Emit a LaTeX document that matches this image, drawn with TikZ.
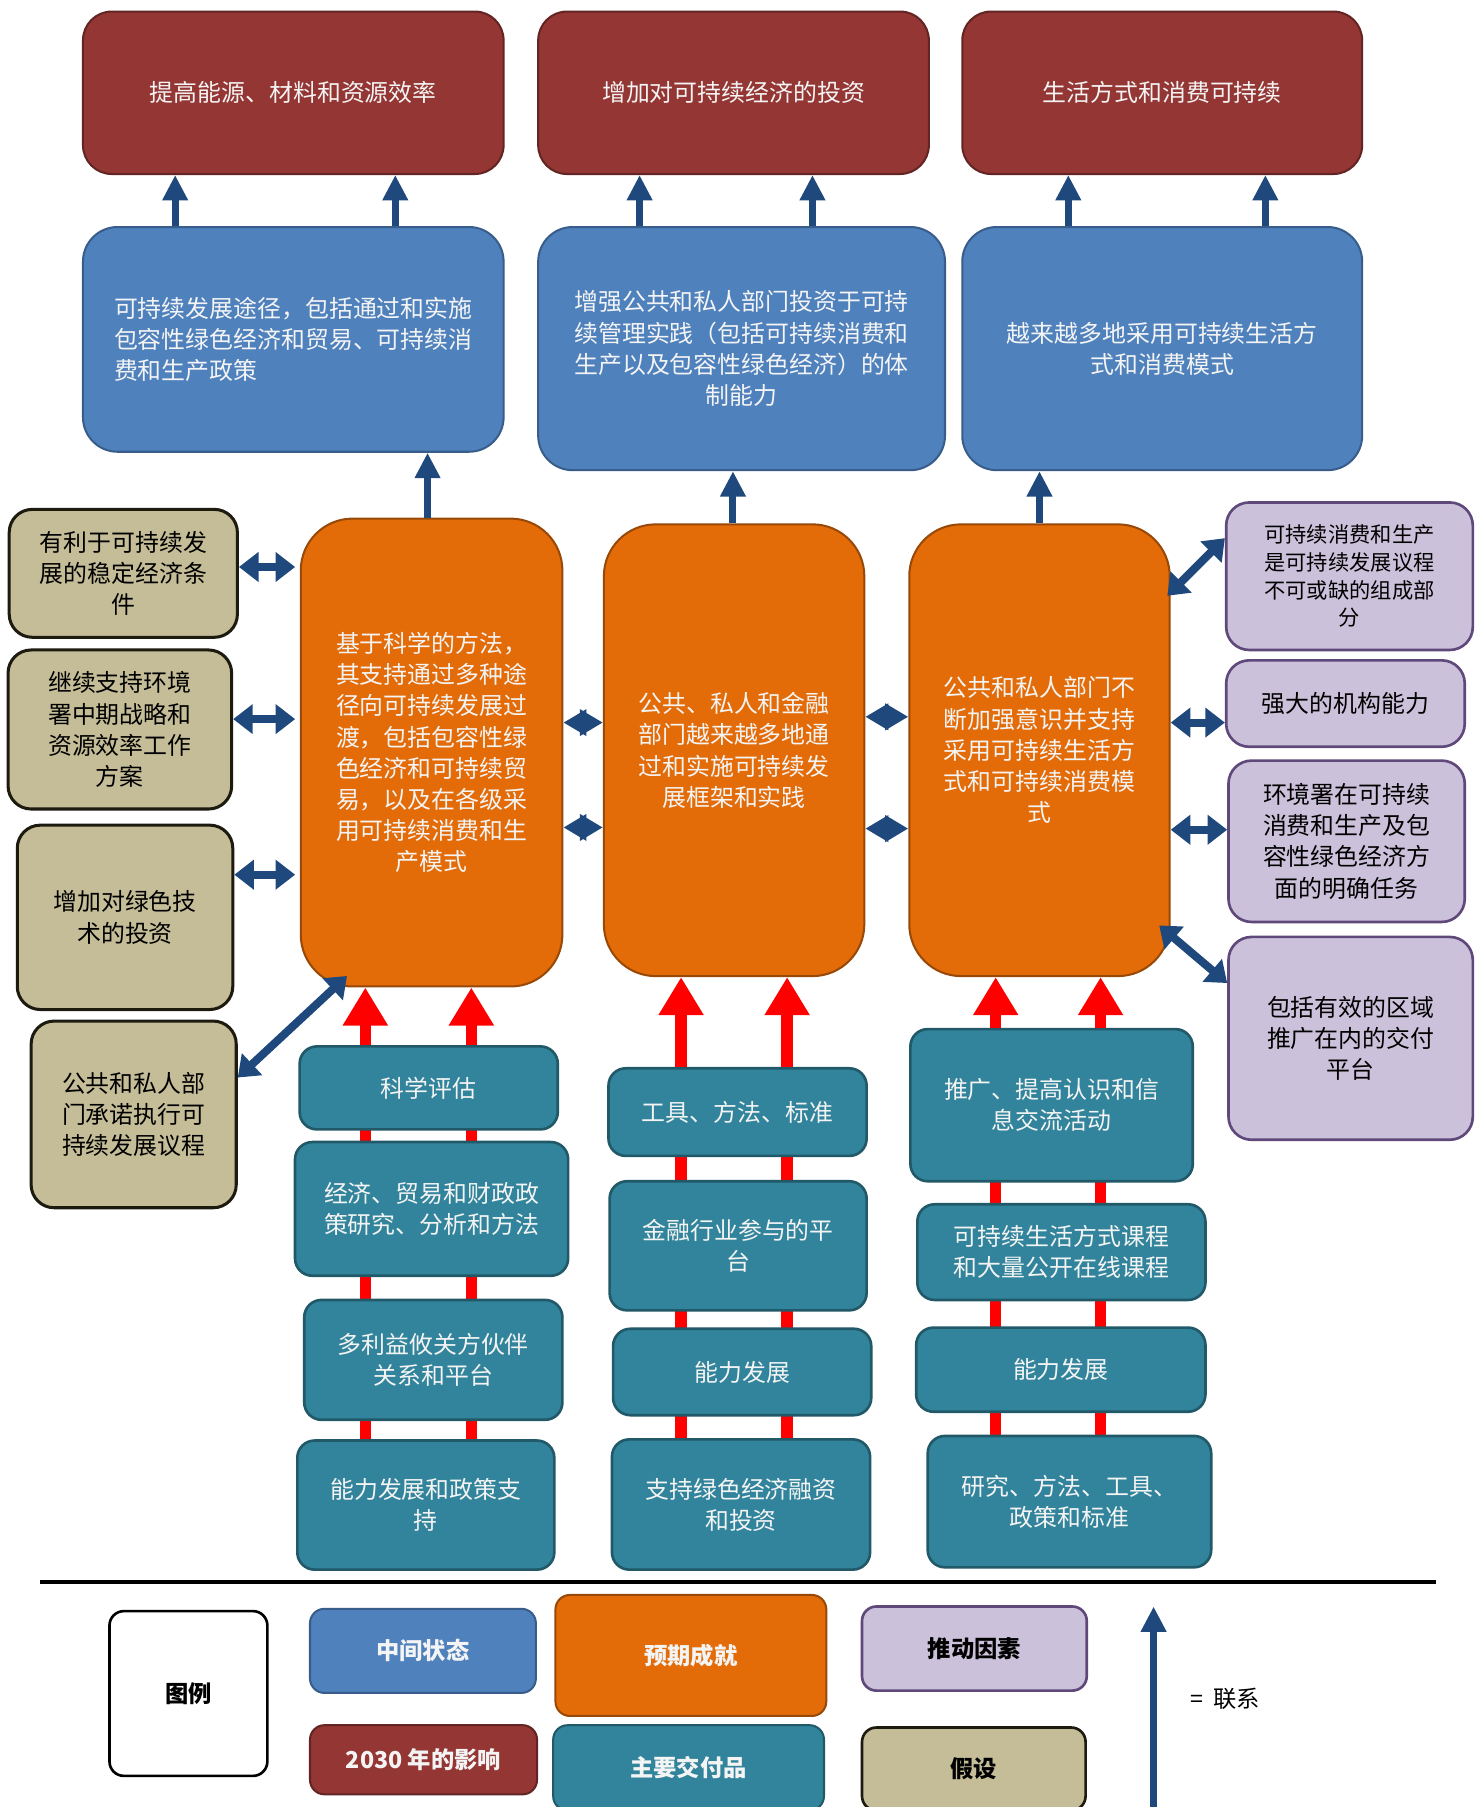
\documentclass[tikz,border=0pt]{standalone}
\usepackage{fontspec}
\setmainfont{Noto Sans CJK SC}
\usepackage{tikz}
\usetikzlibrary{arrows.meta,calc}
\definecolor{impred}{HTML}{943634}
\definecolor{impredline}{HTML}{632523}
\definecolor{midblue}{HTML}{4F81BD}
\definecolor{midblueline}{HTML}{385D8A}
\definecolor{achorange}{HTML}{E36C09}
\definecolor{achorangeline}{HTML}{984807}
\definecolor{delteal}{HTML}{31849B}
\definecolor{deltealline}{HTML}{215968}
\definecolor{asstan}{HTML}{C4BD97}
\definecolor{asstanline}{HTML}{1D1B10}
\definecolor{drvpurple}{HTML}{CCC1DA}
\definecolor{drvpurpleline}{HTML}{5F497A}
\definecolor{linkblue}{HTML}{1F497D}
\definecolor{paper}{HTML}{F4F4F4}

\begin{document}
\begin{tikzpicture}[x=0.02cm,y=-0.02cm,
  wh/.style 2 args={minimum width=#1*0.02cm,minimum height=#2*0.02cm},
  card/.style={draw,line width=1pt,inner sep=1pt,align=center,font=\fontsize{11.8pt}{15.4pt}\selectfont},
  impact/.style={card,rounded corners=0.5cm,fill=impred,draw=impredline,text=paper},
  midstate/.style={card,rounded corners=0.6cm,fill=midblue,draw=midblueline,text=paper},
  achieve/.style={card,rounded corners=0.9cm,fill=achorange,draw=achorangeline,text=paper},
  deliver/.style={card,rounded corners=0.3cm,fill=delteal,draw=deltealline,line width=1.3pt,text=paper},
  assume/.style={card,rounded corners=0.4cm,fill=asstan,draw=asstanline,line width=1.5pt,text=black},
  driver/.style={card,rounded corners=0.4cm,fill=drvpurple,draw=drvpurpleline,line width=1.3pt,text=black},
  legend/.style={font=\fontsize{11.5pt}{14pt}\selectfont\bfseries,rounded corners=0.25cm},
  link/.style={draw=linkblue,line width=0.12cm,-{Triangle[width=0.42cm,length=0.44cm]}},
  twoway/.style={draw=linkblue,line width=0.14cm,{Triangle[width=0.5cm,length=0.34cm]}-{Triangle[width=0.5cm,length=0.34cm]}},
  diamondlink/.style={draw=linkblue,line width=0.1cm,{Triangle[width=0.44cm,length=0.4cm]}-{Triangle[width=0.44cm,length=0.4cm]}},
  feed/.style={draw=red,line width=0.2cm},
  feedtip/.style={feed,-{Triangle[width=0.74cm,length=0.66cm]}}]
\useasboundingbox[fill=white] (0,0) rectangle (1287,1568);

\node[impact,wh={365}{141}] (r1) at (254.5,80.5) {提高能源、材料和资源效率};
\node[impact,wh={339}{141}] (r2) at (636.5,80.5) {增加对可持续经济的投资};
\node[impact,wh={347}{141}] (r3) at (1008.5,80.5) {生活方式和消费可持续};

\node[midstate,wh={365}{195},align=left] (b1) at (254.5,294.5) {可持续发展途径，包括通过和实施\\包容性绿色经济和贸易、可持续消\\费和生产政策};
\node[midstate,wh={353}{211}] (b2) at (643.5,302.5) {增强公共和私人部门投资于可持\\续管理实践（包括可持续消费和\\生产以及包容性绿色经济）的体\\制能力};
\node[midstate,wh={347}{211}] (b3) at (1008.5,302.5) {越来越多地采用可持续生活方\\式和消费模式};

\node[achieve,wh={227}{406}] (o1) at (374.5,653) {基于科学的方法，\\其支持通过多种途\\径向可持续发展过\\渡，包括包容性绿\\色经济和可持续贸\\易，以及在各级采\\用可持续消费和生\\产模式};
\node[achieve,wh={226}{392}] (o2) at (637,651) {公共、私人和金融\\部门越来越多地通\\过和实施可持续发\\展框架和实践};
\node[achieve,wh={226}{392}] (o3) at (902,651) {公共和私人部门不\\断加强意识并支持\\采用可持续生活方\\式和可持续消费模\\式};

\node[assume,wh={198}{111}] (t1) at (107,497.5) {有利于可持续发\\展的稳定经济条\\件};
\node[assume,wh={194}{138}] (t2) at (104,633) {继续支持环境\\署中期战略和\\资源效率工作\\方案};
\node[assume,wh={187}{160}] (t3) at (108.5,796) {增加对绿色技\\术的投资};
\node[assume,wh={178}{162}] (t4) at (116,967) {公共和私人部\\门承诺执行可\\持续发展议程};

\node[driver,wh={214}{128},font=\fontsize{10.5pt}{13.6pt}\selectfont] (p1) at (1171,500) {可持续消费和生产\\是可持续发展议程\\不可或缺的组成部\\分};
\node[driver,wh={207}{75}] (p2) at (1167.5,610.5) {强大的机构能力};
\node[driver,wh={205}{140}] (p3) at (1168.5,730) {环境署在可持续\\消费和生产及包\\容性绿色经济方\\面的明确任务};
\node[driver,wh={212}{176}] (p4) at (1172,901) {包括有效的区域\\推广在内的交付\\平台};

\foreach \x in {317,409} {
  \draw[feed] (372,1306 -| \x,0) -- (372,1180 -| \x,0);
  \draw[feed] (372,1180 -| \x,0) -- (372,1049 -| \x,0);
  \draw[feed] (372,1049 -| \x,0) -- (372,944 -| \x,0);
}
\foreach \x in {591,683} \draw[feed] (640,1305 -| \x,0) -- (640,965 -| \x,0);
\foreach \x in {864,955} \draw[feed] (920,1303 -| \x,0) -- (920,959 -| \x,0);

\node[deliver,wh={224}{72}] (c1a) at (372,944) {科学评估};
\node[deliver,wh={237}{116}] (c1b) at (374.5,1049) {经济、贸易和财政政\\策研究、分析和方法};
\node[deliver,wh={224}{104}] (c1c) at (376,1180) {多利益攸关方伙伴\\关系和平台};
\node[deliver,wh={223}{112}] (c1d) at (369.5,1306) {能力发展和政策支\\持};
\node[deliver,wh={224}{76}] (c2a) at (640,965) {工具、方法、标准};
\node[deliver,wh={223}{112}] (c2b) at (640.5,1081) {金融行业参与的平\\台};
\node[deliver,wh={224}{75}] (c2c) at (644,1190.5) {能力发展};
\node[deliver,wh={224}{113}] (c2d) at (643,1305.5) {支持绿色经济融资\\和投资};
\node[deliver,wh={245}{132}] (c3a) at (912.5,959) {推广、提高认识和信\\息交流活动};
\node[deliver,wh={250}{83}] (c3b) at (921,1086.5) {可持续生活方式课程\\和大量公开在线课程};
\node[deliver,wh={251}{73}] (c3c) at (920.5,1188.5) {能力发展};
\node[deliver,wh={246}{114}] (c3d) at (928,1303) {研究、方法、工具、\\政策和标准};

\foreach \x in {317,409} \draw[feedtip] (c1a.north -| \x,0) -- (o1.south -| \x,0);
\foreach \x in {591,683} \draw[feedtip] (c2a.north -| \x,0) -- (o2.south -| \x,0);
\foreach \x in {864,955} \draw[feedtip] (c3a.north -| \x,0) -- (o3.south -| \x,0);

\foreach \x in {152,343} \draw[link] (b1.north -| \x,0) -- (r1.south -| \x,0);
\foreach \x in {555,705} \draw[link] (b2.north -| \x,0) -- (r2.south -| \x,0);
\foreach \x in {927,1098} \draw[link] (b3.north -| \x,0) -- (r3.south -| \x,0);
\draw[link] (o1.north -| 371,0) -- (b1.south -| 371,0);
\draw[link] (o2.north -| 636,0) -- (b2.south -| 636,0);
\draw[link] (o3.north -| 902,0) -- (b3.south -| 902,0);

\draw[twoway,shorten >=0.08cm] (t1.east |- 0,492) -- (o1.west |- 0,492);
\draw[twoway,shorten >=0.08cm] (t2.east |- 0,624) -- (o1.west |- 0,624);
\draw[twoway,shorten >=0.08cm] (t3.east |- 0,759) -- (o1.west |- 0,759);
\draw[twoway] (t4.east |- 0,935) -- ($(o1.south west)+(41,-10)$);
\draw[diamondlink] (o1.east |- 0,627) -- (o2.west |- 0,627);
\draw[diamondlink] (o1.east |- 0,718) -- (o2.west |- 0,718);
\draw[diamondlink] (o2.east |- 0,622) -- (o3.west |- 0,622);
\draw[diamondlink] (o2.east |- 0,719) -- (o3.west |- 0,719);
\draw[twoway] (p1.west |- 0,467) -- ($(o3.east |- 0,517)+(-3,0)$);
\draw[twoway] (o3.east |- 0,627) -- (p2.west |- 0,627);
\draw[twoway] (o3.east |- 0,720) -- (p3.west |- 0,720);
\draw[twoway] (p4.west |- 0,853) -- ($(o3.east |- 0,803)+(-10,0)$);

\draw[line width=0.07cm] (35,1373) -- (1246,1373);

\node[legend,draw,line width=1.3pt,wh={137}{143}] (lg) at (163.5,1469.5) {图例};
\node[legend,draw=midblueline,fill=midblue,text=paper,line width=1pt,wh={196}{73}] (lg1) at (367,1432.5) {中间状态};
\node[legend,draw=achorangeline,fill=achorange,text=paper,line width=1pt,wh={235}{105}] (lg2) at (599.5,1436.5) {预期成就};
\node[legend,draw=drvpurpleline,fill=drvpurple,line width=1.3pt,wh={195}{73}] (lg3) at (845.5,1430.5) {推动因素};
\node[legend,draw=impredline,fill=impred,text=paper,line width=1pt,wh={197}{60}] (lg4) at (367.5,1527) {2030 年的影响};
\node[legend,draw=deltealline,fill=delteal,text=paper,line width=1pt,wh={235}{74}] (lg5) at (597.5,1534) {主要交付品};
\node[legend,draw=asstanline,fill=asstan,line width=1.3pt,wh={194}{72}] (lg6) at (845,1535) {假设};
\coordinate (lgfoot) at (1001,1570);
\coordinate (lghead) at (1001,1394);
\draw[link] (lgfoot) -- (lghead);
\node[font=\fontsize{11.5pt}{14pt}\selectfont] (lgtext) at (1063,1474) {=\ \ 联系};
\end{tikzpicture}
\end{document}
